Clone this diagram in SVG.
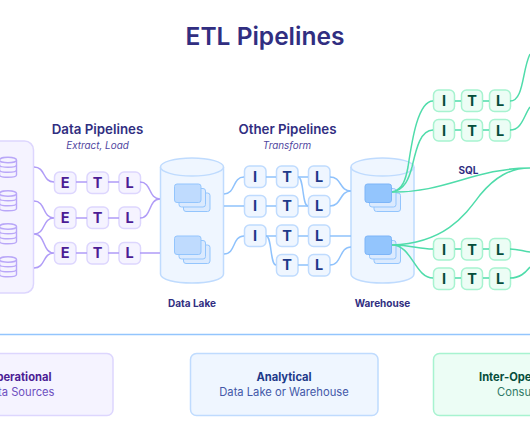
<svg xmlns="http://www.w3.org/2000/svg" width="530" height="442" viewBox="0 0 530 442">
<style>
text{font-family:Inter,"Liberation Sans",sans-serif;text-anchor:middle}
.title{font-size:24.5px;font-weight:600;fill:#312e81}
.head{font-size:13.3px;font-weight:600;fill:#312e81}
.sub{font-size:9.9px;font-style:italic;fill:#4f46a0}
.cap{font-size:10px;font-weight:700;fill:#312e81}
.p,.b,.g{stroke-width:1.5}
.p{fill:#f5f3ff;stroke:#ddd6fe}
.b{fill:#eff6ff;stroke:#bfdbfe}
.g{fill:#ecfdf5;stroke:#a7f3d0}
.lt{font-size:14.5px;font-weight:700}
.lp{fill:#4c1d95}.lb{fill:#1e3a8a}.lg{fill:#064e3b}
.cp,.cb,.cg{fill:none;stroke-width:1.5}
.cp{stroke:#b09cf7}.cb{stroke:#8fc2fc}.cg{stroke:#4fdcaa}
.db{fill:#f5f3ff;stroke:#b9a7f8;stroke-width:1.4}
.cyl{fill:#eff6ff;stroke:#bfdbfe;stroke-width:1.5}
.s1{fill:#dbeafe;stroke:#93c5fd;stroke-width:1}
.s2{fill:#bfdbfe;stroke:#93c5fd;stroke-width:1}
.s3{fill:#93c5fd;stroke:#7db5f8;stroke-width:1}
.bt{font-size:11.2px;font-weight:700}
.bs{font-size:11.2px}
</style>
<defs>
<g id="disk"><path class="db" d="M-8.5 -7.5V7.5C-8.5 10.5 8.5 10.5 8.5 7.5V-7.5"/><path class="db" style="fill:none" d="M-8.5 -2.5C-8.5 0.5 8.5 0.5 8.5 -2.5M-8.5 2.5C-8.5 5.5 8.5 5.5 8.5 2.5"/><ellipse class="db" cx="0" cy="-7.5" rx="8.5" ry="2.8"/></g>
<g id="stack"><rect class="s1" x="9" y="9" width="26.5" height="18.5" rx="2.5"/><rect class="s1" x="4.5" y="4.5" width="26.5" height="18.5" rx="2.5"/><rect class="s2" x="0" y="0" width="26.5" height="18.5" rx="2.5"/></g>
<g id="stackw"><rect class="s1" x="9" y="9" width="26.5" height="18.5" rx="2.5"/><rect class="s1" x="4.5" y="4.5" width="26.5" height="18.5" rx="2.5"/><rect class="s3" x="0" y="0" width="26.5" height="18.5" rx="2.5"/></g>
</defs>
<text class="title" x="265" y="45">ETL Pipelines</text>
<text class="head" x="97.5" y="134">Data Pipelines</text>
<text class="sub" x="97.5" y="149">Extract, Load</text>
<text class="head" x="287.5" y="134">Other Pipelines</text>
<text class="sub" x="287" y="149">Transform</text>
<text class="cap" x="192" y="307">Data Lake</text>
<text class="cap" x="382.5" y="307">Warehouse</text>
<text class="cap" x="468.5" y="173.5">SQL</text>
<g id="operational-sources"><rect class="p" x="-20" y="141" width="53.5" height="152" rx="9"/>
<use href="#disk" x="8" y="167.5"/><use href="#disk" x="8" y="201"/><use href="#disk" x="8" y="234"/><use href="#disk" x="8" y="267"/></g>
<g id="e1"><rect class="p" x="54.5" y="172" width="21.5" height="21.5" rx="5"/><text class="lt lp" x="65.2" y="187.5">E</text></g>
<g id="t1"><rect class="p" x="87" y="172" width="21.5" height="21.5" rx="5"/><text class="lt lp" x="97.5" y="187.5">T</text></g>
<g id="l1"><rect class="p" x="119" y="172" width="21.5" height="21.5" rx="5"/><text class="lt lp" x="129.5" y="187.5">L</text></g>
<g id="e2"><rect class="p" x="54.5" y="207" width="21.5" height="21.5" rx="5"/><text class="lt lp" x="65.2" y="222.5">E</text></g>
<g id="t2"><rect class="p" x="87" y="207" width="21.5" height="21.5" rx="5"/><text class="lt lp" x="97.5" y="222.5">T</text></g>
<g id="l2"><rect class="p" x="119" y="207" width="21.5" height="21.5" rx="5"/><text class="lt lp" x="129.5" y="222.5">L</text></g>
<g id="e3"><rect class="p" x="54.5" y="242.5" width="21.5" height="21.5" rx="5"/><text class="lt lp" x="65.2" y="258">E</text></g>
<g id="t3"><rect class="p" x="87" y="242.5" width="21.5" height="21.5" rx="5"/><text class="lt lp" x="97.5" y="258">T</text></g>
<g id="l3"><rect class="p" x="119" y="242.5" width="21.5" height="21.5" rx="5"/><text class="lt lp" x="129.5" y="258">L</text></g>
<g id="data-lake"><path class="cyl" d="M160.5 167V274C160.5 286 223.5 286 223.5 274V167"/><ellipse class="cyl" cx="192" cy="167" rx="31.5" ry="9"/>
<use href="#stack" x="174.5" y="184"/><use href="#stack" x="174.5" y="236"/></g>
<g id="i4"><rect class="b" x="244.5" y="166" width="21.5" height="21.5" rx="5"/><text class="lt lb" x="255" y="182">I</text></g>
<g id="t4"><rect class="b" x="276.5" y="166" width="21.5" height="21.5" rx="5"/><text class="lt lb" x="287" y="182">T</text></g>
<g id="l4"><rect class="b" x="308.5" y="166" width="21.5" height="21.5" rx="5"/><text class="lt lb" x="319" y="182">L</text></g>
<g id="i5"><rect class="b" x="244.5" y="195.5" width="21.5" height="21.5" rx="5"/><text class="lt lb" x="255" y="211">I</text></g>
<g id="t5"><rect class="b" x="276.5" y="195.5" width="21.5" height="21.5" rx="5"/><text class="lt lb" x="287" y="211">T</text></g>
<g id="l5"><rect class="b" x="308.5" y="195.5" width="21.5" height="21.5" rx="5"/><text class="lt lb" x="319" y="211">L</text></g>
<g id="i6"><rect class="b" x="244.5" y="225" width="21.5" height="21.5" rx="5"/><text class="lt lb" x="255" y="241">I</text></g>
<g id="t6"><rect class="b" x="276.5" y="225" width="21.5" height="21.5" rx="5"/><text class="lt lb" x="287" y="241">T</text></g>
<g id="l6"><rect class="b" x="308.5" y="225" width="21.5" height="21.5" rx="5"/><text class="lt lb" x="319" y="241">L</text></g>
<g id="t7"><rect class="b" x="276.5" y="254.5" width="21.5" height="21.5" rx="5"/><text class="lt lb" x="287" y="270">T</text></g>
<g id="l7"><rect class="b" x="308.5" y="254.5" width="21.5" height="21.5" rx="5"/><text class="lt lb" x="319" y="270">L</text></g>
<g id="warehouse"><path class="cyl" d="M351 167V274C351 286 414 286 414 274V167"/><ellipse class="cyl" cx="382.5" cy="167" rx="31.5" ry="9"/>
<use href="#stackw" x="365" y="184"/><use href="#stackw" x="365" y="236"/></g>
<g id="i8"><rect class="g" x="433.5" y="90" width="21" height="21.5" rx="5"/><text class="lt lg" x="444" y="106">I</text></g>
<g id="t8"><rect class="g" x="461.5" y="90" width="21" height="21.5" rx="5"/><text class="lt lg" x="472" y="106">T</text></g>
<g id="l8"><rect class="g" x="489.5" y="90" width="21" height="21.5" rx="5"/><text class="lt lg" x="500" y="106">L</text></g>
<g id="i9"><rect class="g" x="433.5" y="119.5" width="21" height="21.5" rx="5"/><text class="lt lg" x="444" y="135.5">I</text></g>
<g id="t9"><rect class="g" x="461.5" y="119.5" width="21" height="21.5" rx="5"/><text class="lt lg" x="472" y="135.5">T</text></g>
<g id="l9"><rect class="g" x="489.5" y="119.5" width="21" height="21.5" rx="5"/><text class="lt lg" x="500" y="135.5">L</text></g>
<g id="i10"><rect class="g" x="433.5" y="238.5" width="21" height="21.5" rx="5"/><text class="lt lg" x="444" y="254.5">I</text></g>
<g id="t10"><rect class="g" x="461.5" y="238.5" width="21" height="21.5" rx="5"/><text class="lt lg" x="472" y="254.5">T</text></g>
<g id="l10"><rect class="g" x="489.5" y="238.5" width="21" height="21.5" rx="5"/><text class="lt lg" x="500" y="254.5">L</text></g>
<g id="i11"><rect class="g" x="433.5" y="268" width="21" height="21.5" rx="5"/><text class="lt lg" x="444" y="284">I</text></g>
<g id="t11"><rect class="g" x="461.5" y="268" width="21" height="21.5" rx="5"/><text class="lt lg" x="472" y="284">T</text></g>
<g id="l11"><rect class="g" x="489.5" y="268" width="21" height="21.5" rx="5"/><text class="lt lg" x="500" y="284">L</text></g>
<g id="connectors">
<path class="cp" d="M34 167C46 167 42 182 54 182M34 201C46 201 42 218 54 218M34 234C46 234 42 218 54 218M34 234C46 234 42 253 54 253M34 268C46 268 42 253 54 253"/>
<path class="cp" d="M76 182H87M108 182H119M76 218H87M108 218H119M76 253H87M108 253H119"/>
<path class="cp" d="M140 182C152 182 148 199 160 199M140 218C152 218 148 199 160 199M140 253H160"/>
<path class="cb" d="M224 194C236 194 232 177 244 177M224 206H244M224 254C236 254 232 236 244 236"/>
<path class="cb" d="M266 177H276M298 177H308M266 206H276M298 206H308M266 236H276M298 236H308M298 265H308"/>
<path class="cb" d="M298 177C304 177 302 206 308 206M266 236C272 236 270 265 276 265"/>
<path class="cb" d="M330 177C342 177 339 191 351 191M330 206C342 206 339 191 351 191M330 236H351M330 265C342 265 339 247 351 247"/>
<path class="cg" d="M392 192C403 190 406 178 408 167C412 140 418 101 433 101M392 192C405 190 409 178 412 167C416 150 420 130 433 130"/>
<path class="cg" d="M392 192C445 193 475 168 530 168M392 245C445 243 465 215 480 195C495 177 510 168 530 168"/>
<path class="cg" d="M392 245C412 245 418 249 433 249M392 245C412 245 415 278 433 278"/>
<path class="cg" d="M455 101H461M483 101H489M455 130H461M483 130H489M455 249H461M483 249H489M455 278H461M483 278H489"/>
<path class="cg" d="M510 101C524 101 522 70 530 54M510 130C522 130 524 115 530 107M510 249C518 249 522 251 530 252M510 278C520 278 525 273 530 267"/>
</g>
<path d="M0 334.5H530" stroke="#93c5fd" stroke-width="1.5" fill="none"/>
<g id="legend-operational"><rect class="p" x="-40" y="353.5" width="153" height="62" rx="6"/>
<text class="bt" x="51.5" y="381" style="text-anchor:end;fill:#4c1d95">Operational</text>
<text class="bs" x="54.5" y="395.5" style="text-anchor:end;fill:#6d4fc0">Data Sources</text></g>
<g id="legend-analytical"><rect class="b" x="190.5" y="353.5" width="187.5" height="62" rx="6"/>
<text class="bt" x="284" y="381" style="fill:#1e3a8a">Analytical</text>
<text class="bs" x="284" y="395.5" style="fill:#4358a8">Data Lake or Warehouse</text></g>
<g id="legend-interop"><rect class="g" x="433.5" y="353.5" width="120" height="62" rx="6"/>
<text class="bt" x="479" y="381" style="text-anchor:start;fill:#064e3b">Inter-Ope</text>
<text class="bs" x="497" y="395.5" style="text-anchor:start;fill:#2f7a66">Consu</text></g>
</svg>
